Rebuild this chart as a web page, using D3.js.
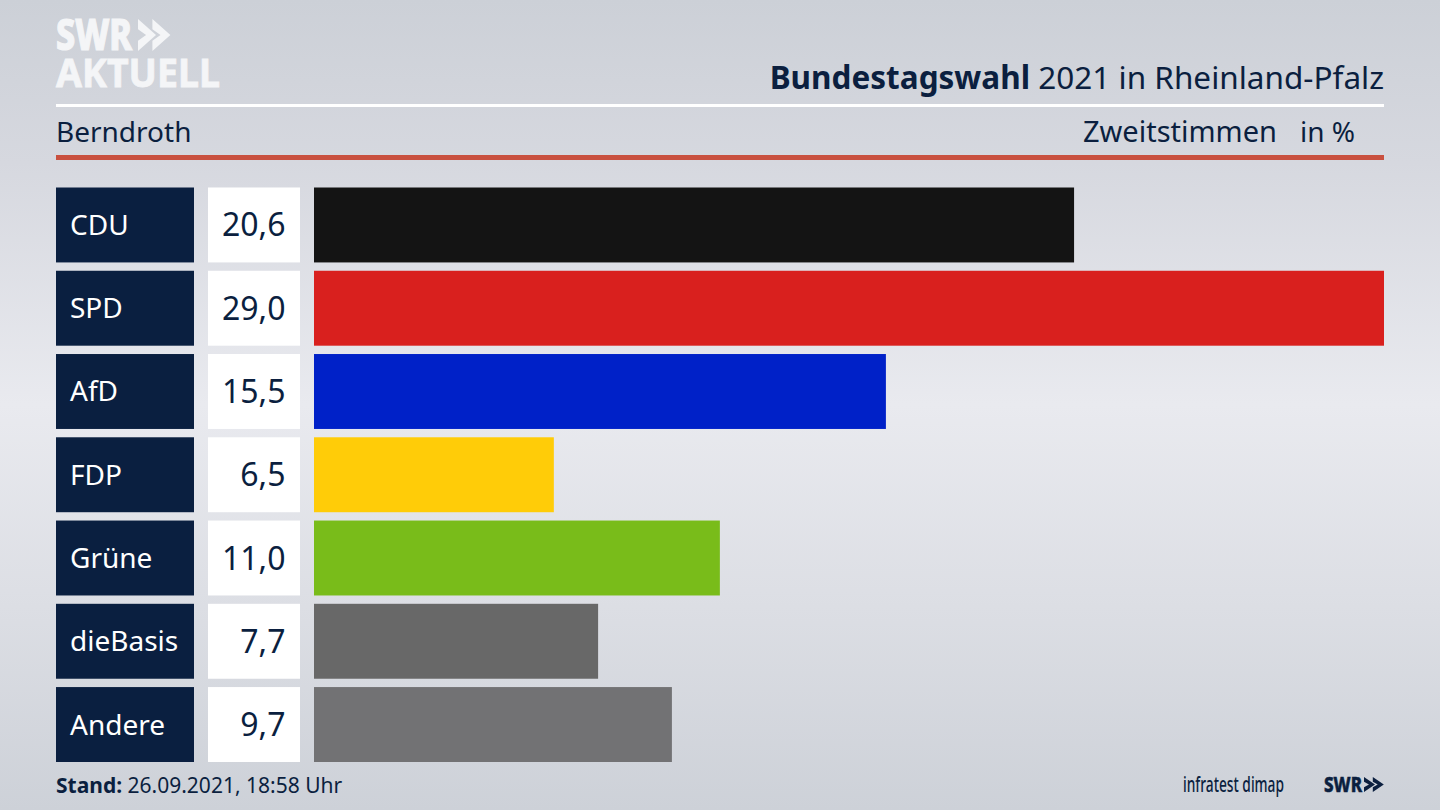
<!DOCTYPE html>
<html><head><meta charset="utf-8">
<script src="https://cdn.jsdelivr.net/npm/d3@7"></script>
<style>html,body{margin:0;padding:0;background:#d8dae0;overflow:hidden}svg{display:block}text{font-family:"Noto Sans",sans-serif}</style>
</head><body><svg id="c" width="1440" height="810"></svg>
<script>
const categories=["CDU","SPD","AfD","FDP","Grüne","dieBasis","Andere"];
const values=[20.6,29.0,15.5,6.5,11.0,7.7,9.7];
const labels=["20,6","29,0","15,5","6,5","11,0","7,7","9,7"];
const colors=["#141414","#d9201e","#0021c8","#ffcc08","#79bc1a","#686868","#727274"];
const ink="#0b1f3f";
const svg=d3.select("#c");
const defs=svg.append("defs");
const g=defs.append("linearGradient").attr("id","bg").attr("x1",0).attr("x2",0).attr("y1",0).attr("y2",1);
[[0,"#ccd0d7"],[0.2,"#d6d8df"],[0.5,"#e9eaef"],[0.75,"#dcdee4"],[1,"#cdd1d8"]].forEach(d=>g.append("stop").attr("offset",d[0]).attr("stop-color",d[1]));
svg.append("rect").attr("width",1440).attr("height",810).attr("fill","url(#bg)");
const x=d3.scaleLinear().domain([0,29]).range([314,1384]);
const y=d3.scaleBand().domain(categories).range([187.5,762]).paddingInner(0.1).paddingOuter(0);
const rows=svg.append("g").selectAll("g").data(categories).join("g");
rows.append("rect").attr("x",56).attr("width",138).attr("y",d=>y(d)).attr("height",y.bandwidth()).attr("fill","#0a1f40");
rows.append("rect").attr("x",208).attr("width",92).attr("y",d=>y(d)).attr("height",y.bandwidth()).attr("fill","#fff");
rows.append("rect").attr("x",x(0)).attr("y",d=>y(d)).attr("height",y.bandwidth()).attr("width",(d,i)=>x(values[i])-x(0)).attr("fill",(d,i)=>colors[i]);
rows.append("text").attr("x",70).attr("y",d=>y(d)+y.bandwidth()/2+10).attr("font-size",28).attr("fill","#fff").text(d=>d);
rows.append("text").attr("x",285.5).attr("y",d=>y(d)+y.bandwidth()/2+11.5).attr("font-size",32).attr("text-anchor","end").attr("fill",ink).text((d,i)=>labels[i]);
// header
svg.append("rect").attr("x",56).attr("y",104).attr("width",1328).attr("height",3).attr("fill","#fff");
svg.append("rect").attr("x",56).attr("y",155).attr("width",1328).attr("height",5).attr("fill","#c9503f");
svg.append("text").attr("x",56).attr("y",142).attr("font-size",28).attr("fill",ink).text("Berndroth");
svg.append("text").attr("x",1277).attr("y",142).attr("font-size",29).attr("text-anchor","end").attr("fill",ink).text("Zweitstimmen");
svg.append("text").attr("x",1355).attr("y",142).attr("font-size",28).attr("text-anchor","end").attr("fill",ink).text("in %");
const t=svg.append("text").attr("x",1384).attr("y",89).attr("font-size",31.5).attr("text-anchor","end").attr("fill",ink);
t.append("tspan").attr("font-weight",700).text("Bundestagswahl");
t.append("tspan").text(" 2021 in Rheinland-Pfalz");
// footer
const f=svg.append("text").attr("x",56).attr("y",793).attr("font-size",21).attr("fill",ink);
f.append("tspan").attr("font-weight",700).text("Stand:");
f.append("tspan").text(" 26.09.2021, 18:58 Uhr");
svg.append("text").attr("transform","translate(1183,792) scale(0.655,1)").attr("font-size",21).attr("font-weight",500).attr("fill",ink).text("infratest dimap");
// logos
function chev(px,py,h,w,fill){
  const p=svg.append("g").attr("transform",`translate(${px},${py})`).attr("fill",fill);
  [0,w*0.8].forEach(o=>p.append("path").attr("d",`M${o} 0L${o+w} ${h/2}L${o} ${h}L${o} ${h*0.68}L${o+w*0.45} ${h/2}L${o} ${h*0.32}Z`));
}
const logoFill="#f4f5f7";
svg.append("text").attr("x",56).attr("y",50).attr("font-size",42).attr("font-weight",800).attr("fill",logoFill).attr("stroke",logoFill).attr("stroke-width",1.2).attr("textLength",76).attr("lengthAdjust","spacingAndGlyphs").text("SWR");
chev(138,19,32,18,logoFill);
svg.append("text").attr("x",56).attr("y",87).attr("font-size",40).attr("font-weight",700).attr("fill",logoFill).attr("stroke",logoFill).attr("stroke-width",0.8).attr("textLength",164).attr("lengthAdjust","spacingAndGlyphs").text("AKTUELL");
svg.append("text").attr("x",1324).attr("y",792).attr("font-size",21).attr("font-weight",800).attr("fill",ink).attr("stroke",ink).attr("stroke-width",0.5).attr("textLength",38).attr("lengthAdjust","spacingAndGlyphs").text("SWR");
chev(1364,777,15,11,ink);
</script></body></html>
